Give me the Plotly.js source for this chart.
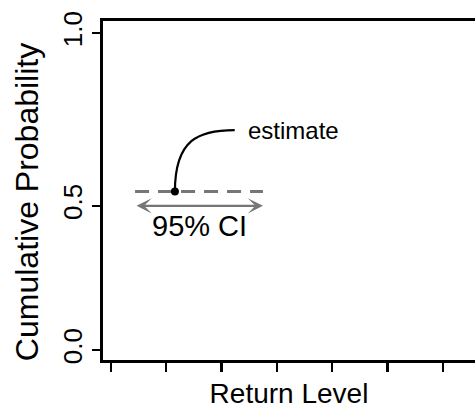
<!DOCTYPE html>
<html>
<head>
<meta charset="utf-8">
<script src="https://cdn.plot.ly/plotly-3.0.1.min.js"></script>
<style>
  html, body { margin: 0; padding: 0; background: #fff; }
  #chart { width: 475px; height: 409px; }
</style>
</head>
<body>
<div id="chart"></div>
<script>
// ---- data ----
const xTickVals = [1, 2, 3, 4, 5, 6, 7];
const yTickVals = [0, 0.455, 1];
const yTickText = ['0.0', '0.5', '1.0'];
const estimateX = [2.16];
const estimateY = [0.5];
const ciBounds = [1.44, 3.75];      // dashed estimate line / CI extent
const ciArrowY = 0.455;             // level of the 95% CI arrow
const estimateLabelPos = [3.24, 0.694]; // end of the leader curve
const ciLabelPos = [2.6, 0.39];
const labels = { estimate: 'estimate', ci: '95% CI' };
const xTitle = 'Return Level';
const yTitle = 'Cumulative Probability';

const FONT = 'Arial, "Liberation Sans", sans-serif';
const GREY = '#767676';
const INK = '#000';

const traces = [
  { // dashed estimate line
    x: ciBounds, y: [estimateY[0], estimateY[0]],
    mode: 'lines', line: { color: GREY, width: 3, dash: '14px,9px' },
    hoverinfo: 'skip', showlegend: false
  },
  { // estimate point
    x: estimateX, y: estimateY, mode: 'markers',
    marker: { color: INK, size: 8 },
    hoverinfo: 'skip', showlegend: false
  }
];

// leader curve from the estimate point to the label
const x0 = estimateX[0], y0 = estimateY[0];
const x1 = estimateLabelPos[0], y1 = estimateLabelPos[1];
const curvePath = 'M ' + x0 + ',' + y0 +
  ' C ' + x0 + ',' + (y0 + (y1 - y0) * 0.85) + ' ' +
  (x0 + (x1 - x0) * 0.4) + ',' + y1 + ' ' + x1 + ',' + y1;

const layout = {
  width: 475, height: 409,
  margin: { l: 103, r: 0, t: 21, b: 49 },
  paper_bgcolor: '#fff', plot_bgcolor: '#fff',
  showlegend: false,
  font: { family: FONT, color: INK },
  xaxis: {
    range: [0.861, 7.58], tickvals: xTickVals, showticklabels: false,
    ticks: 'outside', ticklen: 9, tickwidth: 2.2, tickcolor: INK,
    showline: true, linewidth: 3, linecolor: INK, mirror: true,
    showgrid: false, zeroline: false, automargin: false,
    title: { text: xTitle, font: { size: 28, family: FONT, color: INK }, standoff: 24 }
  },
  yaxis: {
    range: [-0.0315, 1.038], tickvals: yTickVals, ticktext: yTickText,
    tickangle: -90, tickfont: { size: 26, family: FONT, color: INK },
    ticks: 'outside', ticklen: 8, tickwidth: 2.2, tickcolor: INK,
    showline: true, linewidth: 3, linecolor: INK,
    showgrid: false, zeroline: false, automargin: false
  },
  shapes: [
    { type: 'path', xref: 'x', yref: 'y', path: curvePath,
      line: { color: INK, width: 2.2 } }
  ],
  annotations: [
    { x: ciBounds[1], y: ciArrowY, ax: ciBounds[0], ay: ciArrowY,
      xref: 'x', yref: 'y', axref: 'x', ayref: 'y', text: '',
      showarrow: true, arrowhead: 3, arrowside: 'end+start', arrowsize: 1.1,
      arrowwidth: 2.3, arrowcolor: GREY, standoff: 0, startstandoff: 0 },
    { x: x1 + 0.2, y: y1, xref: 'x', yref: 'y', text: labels.estimate,
      showarrow: false, xanchor: 'left', yanchor: 'middle',
      font: { size: 24, family: FONT, color: INK } },
    { x: ciLabelPos[0], y: ciLabelPos[1], xref: 'x', yref: 'y', text: labels.ci,
      showarrow: false, xanchor: 'center', yanchor: 'middle',
      font: { size: 29, family: FONT, color: INK } },
    { // y-axis title
      x: -0.204, y: 0.466, xref: 'paper', yref: 'paper', text: yTitle,
      textangle: -90, showarrow: false, xanchor: 'center', yanchor: 'middle',
      font: { size: 32, family: FONT, color: INK } }
  ]
};

Plotly.newPlot('chart', traces, layout, { staticPlot: true, displayModeBar: false });
</script>
</body>
</html>
